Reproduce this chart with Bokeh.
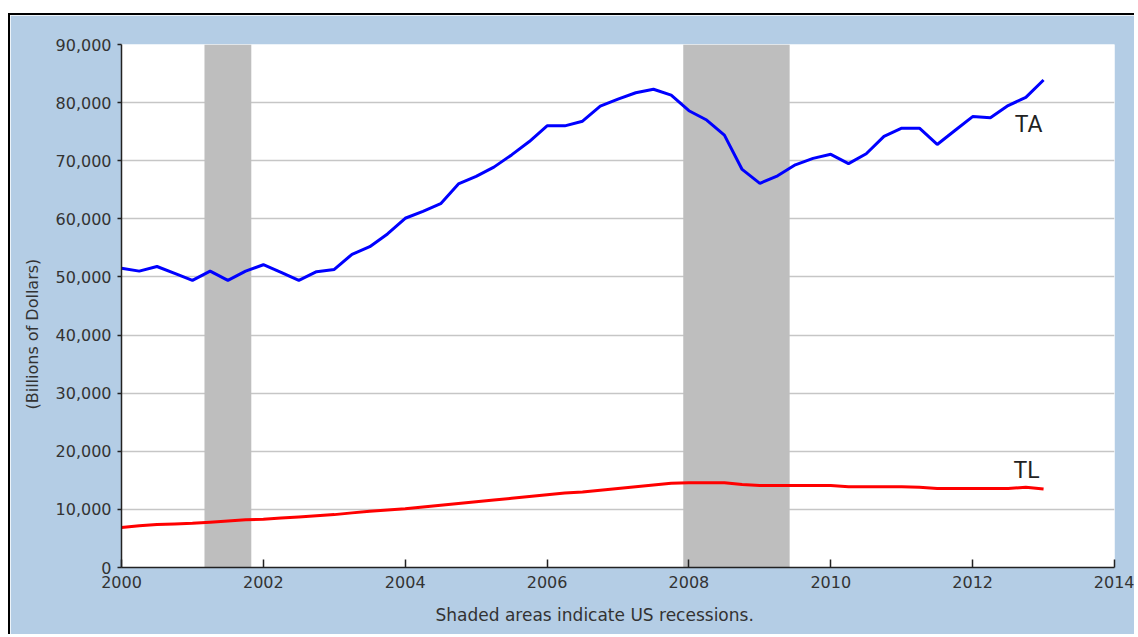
from bokeh.plotting import figure
from bokeh.models import FixedTicker, NumeralTickFormatter, Label, ColumnDataSource, Title
from bokeh.embed import file_html
from bokeh.resources import INLINE

# ---- data (quarterly, billions of dollars) ----
quarter = [2000.00, 2000.25, 2000.50, 2000.75,
           2001.00, 2001.25, 2001.50, 2001.75,
           2002.00, 2002.25, 2002.50, 2002.75,
           2003.00, 2003.25, 2003.50, 2003.75,
           2004.00, 2004.25, 2004.50, 2004.75,
           2005.00, 2005.25, 2005.50, 2005.75,
           2006.00, 2006.25, 2006.50, 2006.75,
           2007.00, 2007.25, 2007.50, 2007.75,
           2008.00, 2008.25, 2008.50, 2008.75,
           2009.00, 2009.25, 2009.50, 2009.75,
           2010.00, 2010.25, 2010.50, 2010.75,
           2011.00, 2011.25, 2011.50, 2011.75,
           2012.00, 2012.25, 2012.50, 2012.75,
           2013.00]

ta = [51500, 51000, 51800, 50600,
      49400, 51000, 49400, 51000,
      52100, 50800, 49400, 50900,
      51300, 53900, 55200, 57400,
      60100, 61300, 62600, 66000,
      67300, 68900, 71000, 73300,
      76000, 76000, 76800, 79400,
      80600, 81700, 82300, 81300,
      78600, 77000, 74400, 68500,
      66100, 67400, 69300, 70400,
      71100, 69500, 71200, 74200,
      75600, 75600, 72800, 75200,
      77600, 77400, 79500, 80900,
      83900]

tl = [6900, 7200, 7400, 7500,
      7600, 7800, 8000, 8200,
      8300, 8500, 8700, 8900,
      9100, 9400, 9700, 9900,
      10100, 10400, 10700, 11000,
      11300, 11600, 11900, 12200,
      12500, 12800, 13000, 13300,
      13600, 13900, 14200, 14500,
      14600, 14600, 14600, 14300,
      14100, 14100, 14100, 14100,
      14100, 13900, 13900, 13900,
      13900, 13800, 13600, 13600,
      13600, 13600, 13600, 13800,
      13500]

rec_start = [2001.17, 2007.92]
rec_end = [2001.83, 2009.42]

series_labels = ["TA", "TL"]
label_pos_x = [2012.79, 2012.76]
label_pos_y = [76300, 16700]

x_ticks = [2000, 2002, 2004, 2006, 2008, 2010, 2012, 2014]
y_ticks = [0, 10000, 20000, 30000, 40000, 50000, 60000, 70000, 80000, 90000]
y_title = "(Billions of Dollars)"
note = "Shaded areas indicate US recessions."

BG = "#B4CDE5"
TXT = "#333333"
FONT = "DejaVu Sans"

p = figure(width=1126, height=621, output_backend="svg", toolbar_location=None,
           x_range=(x_ticks[0], x_ticks[-1]), y_range=(y_ticks[0], y_ticks[-1]),
           background_fill_color="white", border_fill_color=BG,
           min_border_left=110, min_border_right=22, min_border_top=29, min_border_bottom=68)
p.outline_line_color = None
p.margin = (13, 0, 0, 8)
p.styles = {"border-left": "2px solid black", "border-top": "2px solid black"}

# grid
p.xgrid.grid_line_color = None
p.ygrid.grid_line_color = "#C6C6C6"
p.ygrid.grid_line_width = 1.5

# recessions
rec = ColumnDataSource(dict(left=rec_start, right=rec_end,
                            bottom=[y_ticks[0]] * len(rec_start),
                            top=[y_ticks[-1]] * len(rec_start)))
p.quad(left="left", right="right", bottom="bottom", top="top", source=rec,
       fill_color="#BEBEBE", line_color=None)

# lines
p.line(quarter, ta, line_color="#0000FF", line_width=3)
p.line(quarter, tl, line_color="#FF0000", line_width=3)

for t, lx, ly in zip(series_labels, label_pos_x, label_pos_y):
    p.add_layout(Label(x=lx, y=ly, text=t, text_align="center", text_baseline="middle",
                       text_font="Roboto", text_font_size="23px",
                       text_color="#222222"))

# axes
p.xaxis.ticker = FixedTicker(ticks=x_ticks)
p.yaxis.ticker = FixedTicker(ticks=y_ticks)
p.yaxis.formatter = NumeralTickFormatter(format="0,0")
for ax in (p.xaxis[0], p.yaxis[0]):
    ax.axis_line_color = "#222222"
    ax.axis_line_width = 1.5
    ax.major_tick_line_color = "#222222"
    ax.major_tick_line_width = 1.5
    ax.minor_tick_line_color = None
    ax.major_label_text_font = FONT
    ax.major_label_text_font_size = "16px"
    ax.major_label_text_color = TXT

p.yaxis.major_tick_in = 0
p.yaxis.major_tick_out = 4
p.yaxis.major_label_standoff = 6

p.xaxis.major_tick_in = 8
p.xaxis.major_tick_out = 0
p.xaxis.major_label_standoff = 8

p.add_layout(Title(text=y_title, align="left", offset=158, standoff=21,
                   text_font=FONT, text_font_size="16px", text_font_style="normal",
                   text_color=TXT), "left")
p.add_layout(Title(text=note, align="left", offset=314, standoff=24,
                   text_font=FONT, text_font_size="17px", text_font_style="normal",
                   text_color=TXT), "below")

open("out.html", "w").write(file_html(p, INLINE))
